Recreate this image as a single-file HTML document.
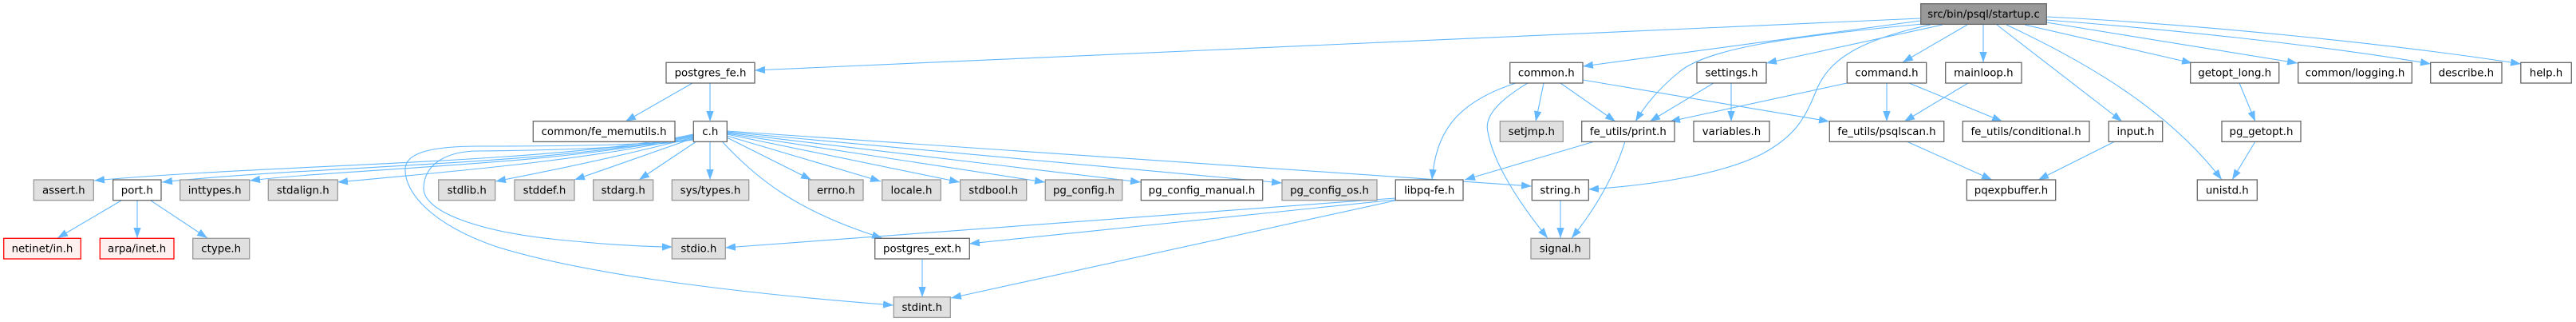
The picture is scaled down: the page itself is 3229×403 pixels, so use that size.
<!DOCTYPE html>
<html><head><meta charset="utf-8"><style>
html,body{margin:0;padding:0;background:#fff;}
svg{display:block;}
text{font-family:"DejaVu Sans","Liberation Sans",sans-serif;font-size:13.33px;fill:#000;text-anchor:middle;}
.e{fill:none;stroke:#63b8ff;stroke-width:1.1;marker-end:url(#a);}
.w{fill:#fff;stroke:#666;stroke-width:1.3;}
.g{fill:#e0e0e0;stroke:#999;stroke-width:1.3;}
.r{fill:#fff0f0;stroke:#ff0000;stroke-width:1.3;}
.s{fill:#999;stroke:#666;stroke-width:1.3;}
</style></head><body>
<svg width="3229" height="403" viewBox="0 0 3229 403" xmlns="http://www.w3.org/2000/svg">
<defs><marker id="a" markerUnits="userSpaceOnUse" markerWidth="13" markerHeight="9.4" viewBox="0 0 13 9.4" refX="13" refY="4.7" orient="auto"><path d="M0,0L13,4.7L0,9.4z" fill="#63b8ff"/></marker></defs>
<g>
<!-- startup.c edges -->
<path class="e" d="M2407,23L946,88"/>
<path class="e" d="M2407,26L1984,83"/>
<path class="e" d="M2410,30C2250,45 2140,60 2105,90C2080,110 2062,132 2050,152"/>
<path class="e" d="M2435,31L2214,79"/>
<path class="e" d="M2466,31L2385,78"/>
<path class="e" d="M2486,31L2486,78"/>
<path class="e" d="M2420,31C2320,52 2292,80 2278,110C2262,150 2250,170 2210,192C2160,218 2070,232 1991,237"/>
<path class="e" d="M2503,31L2660,152"/>
<path class="e" d="M2515,31C2620,80 2720,140 2785,225"/>
<path class="e" d="M2538,31L2748,79"/>
<path class="e" d="M2565,28L2880,79"/>
<path class="e" d="M2565,25C2700,35 2900,55 3047,80"/>
<path class="e" d="M2565,21C2750,30 3000,55 3160,80"/>
<!-- second level -->
<path class="e" d="M2807,104L2827,152"/>
<path class="e" d="M2827,177L2798,225"/>
<path class="e" d="M2651,177L2555,225"/>
<path class="e" d="M2390,177L2497,225"/>
<path class="e" d="M2365,104L2365,152"/>
<path class="e" d="M2467,104L2387,152"/>
<path class="e" d="M2393,104L2510,152"/>
<path class="e" d="M2315,104L2093,152"/>
<path class="e" d="M2148,104L2068,152"/>
<path class="e" d="M2170,104L2170,152"/>
<path class="e" d="M1984,100L2293,152"/>
<path class="e" d="M1956,104L2025,152"/>
<path class="e" d="M1935,104L1925,152"/>
<path class="e" d="M1900,104C1820,130 1800,170 1795,225"/>
<path class="e" d="M1915,104C1880,125 1860,145 1865,165C1872,205 1905,255 1940,298"/>
<path class="e" d="M1999,177L1836,225"/>
<path class="e" d="M2037,177C2025,215 2005,255 1970,298"/>
<path class="e" d="M1956,251L1956,298"/>
<path class="e" d="M1749,248L909,310"/>
<path class="e" d="M1749,250L1215,305"/>
<path class="e" d="M1749,251L1192,373"/>
<path class="e" d="M1156,324L1156,372"/>
<path class="e" d="M868,104L784,152"/>
<path class="e" d="M890,104L890,152"/>
<!-- c.h edges -->
<path class="e" d="M890,177L890,225"/>
<path class="e" d="M873,177L801,225"/>
<path class="e" d="M869,173C820,190 770,208 720,225"/>
<path class="e" d="M869,172C780,195 700,212 621,227"/>
<path class="e" d="M869,171C750,198 600,212 423,228"/>
<path class="e" d="M869,170C700,207 450,210 313,226"/>
<path class="e" d="M869,169C700,207 400,207 203,228"/>
<path class="e" d="M869,168C700,205 350,205 118,226"/>
<path class="e" d="M911,172L1017,225"/>
<path class="e" d="M911,170L1104,227"/>
<path class="e" d="M911,168L1203,228"/>
<path class="e" d="M911,167L1310,228"/>
<path class="e" d="M911,166L1430,228"/>
<path class="e" d="M911,165L1607,229"/>
<path class="e" d="M911,164L1920,233"/>
<path class="e" d="M905,177C950,225 1000,265 1106,298"/>
<path class="e" d="M869,175C800,185 700,188 600,189C560,189 532,205 531,235C530,265 600,290 700,300C760,306 810,309 843,309"/>
<path class="e" d="M869,174C820,182 700,183 600,183C545,183 510,190 508,210C506,240 540,280 620,308C720,340 900,365 1120,382"/>
<!-- port.h -->
<path class="e" d="M152,251L72,298"/>
<path class="e" d="M172,251L172,298"/>
<path class="e" d="M189,251L260,298"/>
</g>
<g>
<rect class="s" x="2407.7" y="4.7" width="157.6" height="25.7"/><text x="2486.5" y="22">src/bin/psql/startup.c</text>
<rect class="w" x="835" y="78.3" width="111" height="25.7"/><text x="890.5" y="95.6">postgres_fe.h</text>
<rect class="w" x="1892.7" y="78.3" width="91.3" height="25.7"/><text x="1938.3" y="95.6">common.h</text>
<rect class="w" x="2127" y="78.3" width="87" height="25.7"/><text x="2170.5" y="95.6">settings.h</text>
<rect class="w" x="2315.3" y="78.3" width="99.4" height="25.7"/><text x="2365" y="95.6">command.h</text>
<rect class="w" x="2438.7" y="78.3" width="95.3" height="25.7"/><text x="2486.3" y="95.6">mainloop.h</text>
<rect class="w" x="2745.7" y="78.3" width="111" height="25.7"/><text x="2801.2" y="95.6">getopt_long.h</text>
<rect class="w" x="2880.7" y="78.3" width="142.6" height="25.7"/><text x="2952" y="95.6">common/logging.h</text>
<rect class="w" x="3046.7" y="78.3" width="89.3" height="25.7"/><text x="3091.3" y="95.6">describe.h</text>
<rect class="w" x="3159.8" y="78.3" width="63.5" height="25.7"/><text x="3191.5" y="95.6">help.h</text>

<rect class="w" x="668.3" y="151.7" width="177.7" height="25.7"/><text x="757.1" y="169">common/fe_memutils.h</text>
<rect class="w" x="869.3" y="151.7" width="42" height="25.7"/><text x="890.3" y="169">c.h</text>
<rect class="g" x="1880.3" y="151.7" width="79" height="25.7"/><text x="1919.8" y="169">setjmp.h</text>
<rect class="w" x="1982.7" y="151.7" width="116.3" height="25.7"/><text x="2040.8" y="169">fe_utils/print.h</text>
<rect class="w" x="2123" y="151.7" width="95" height="25.7"/><text x="2170.5" y="169">variables.h</text>
<rect class="w" x="2293.3" y="151.7" width="143.4" height="25.7"/><text x="2365" y="169">fe_utils/psqlscan.h</text>
<rect class="w" x="2460.3" y="151.7" width="158.7" height="25.7"/><text x="2539.6" y="169">fe_utils/conditional.h</text>
<rect class="w" x="2643.3" y="151.7" width="67.4" height="25.7"/><text x="2677" y="169">input.h</text>
<rect class="w" x="2785" y="151.7" width="99" height="25.7"/><text x="2834.5" y="169">pg_getopt.h</text>

<rect class="g" x="42.3" y="225" width="75" height="25.7"/><text x="79.8" y="242.3">assert.h</text>
<rect class="w" x="141.7" y="225" width="60.3" height="25.7"/><text x="171.8" y="242.3">port.h</text>
<rect class="g" x="225.7" y="225" width="87" height="25.7"/><text x="269.2" y="242.3">inttypes.h</text>
<rect class="g" x="336.3" y="225" width="87" height="25.7"/><text x="379.8" y="242.3">stdalign.h</text>
<rect class="g" x="549.7" y="225" width="71" height="25.7"/><text x="585.2" y="242.3">stdlib.h</text>
<rect class="g" x="645" y="225" width="75" height="25.7"/><text x="682.5" y="242.3">stddef.h</text>
<rect class="g" x="743.7" y="225" width="75" height="25.7"/><text x="781.2" y="242.3">stdarg.h</text>
<rect class="g" x="842.3" y="225" width="96.4" height="25.7"/><text x="890.5" y="242.3">sys/types.h</text>
<rect class="g" x="1013.7" y="225" width="68.3" height="25.7"/><text x="1047.8" y="242.3">errno.h</text>
<rect class="g" x="1105.7" y="225" width="73.6" height="25.7"/><text x="1142.5" y="242.3">locale.h</text>
<rect class="g" x="1203.7" y="225" width="83" height="25.7"/><text x="1245.2" y="242.3">stdbool.h</text>
<rect class="g" x="1310.3" y="225" width="96.4" height="25.7"/><text x="1358.5" y="242.3">pg_config.h</text>
<rect class="w" x="1430.3" y="225" width="152.4" height="25.7"/><text x="1506.5" y="242.3">pg_config_manual.h</text>
<rect class="g" x="1607" y="225" width="119" height="25.7"/><text x="1666.5" y="242.3">pg_config_os.h</text>
<rect class="w" x="1749.3" y="225" width="84.7" height="25.7"/><text x="1791.7" y="242.3">libpq-fe.h</text>
<rect class="w" x="1920.3" y="225" width="71" height="25.7"/><text x="1955.8" y="242.3">string.h</text>
<rect class="w" x="2465.3" y="225" width="111.4" height="25.7"/><text x="2521" y="242.3">pqexpbuffer.h</text>
<rect class="w" x="2754.3" y="225" width="75" height="25.7"/><text x="2791.8" y="242.3">unistd.h</text>

<rect class="r" x="4.7" y="298.3" width="96.6" height="25.7"/><text x="53" y="315.6">netinet/in.h</text>
<rect class="r" x="125.3" y="298.3" width="92.7" height="25.7"/><text x="171.7" y="315.6">arpa/inet.h</text>
<rect class="g" x="241.7" y="298.3" width="71" height="25.7"/><text x="277.2" y="315.6">ctype.h</text>
<rect class="g" x="842.3" y="298.3" width="67" height="25.7"/><text x="875.8" y="315.6">stdio.h</text>
<rect class="w" x="1096.7" y="298.3" width="118.6" height="25.7"/><text x="1156" y="315.6">postgres_ext.h</text>
<rect class="g" x="1919" y="298.3" width="73.7" height="25.7"/><text x="1955.8" y="315.6">signal.h</text>

<rect class="g" x="1120.3" y="371.7" width="71" height="25.7"/><text x="1155.8" y="389">stdint.h</text>
</g>
</svg>
</body></html>
